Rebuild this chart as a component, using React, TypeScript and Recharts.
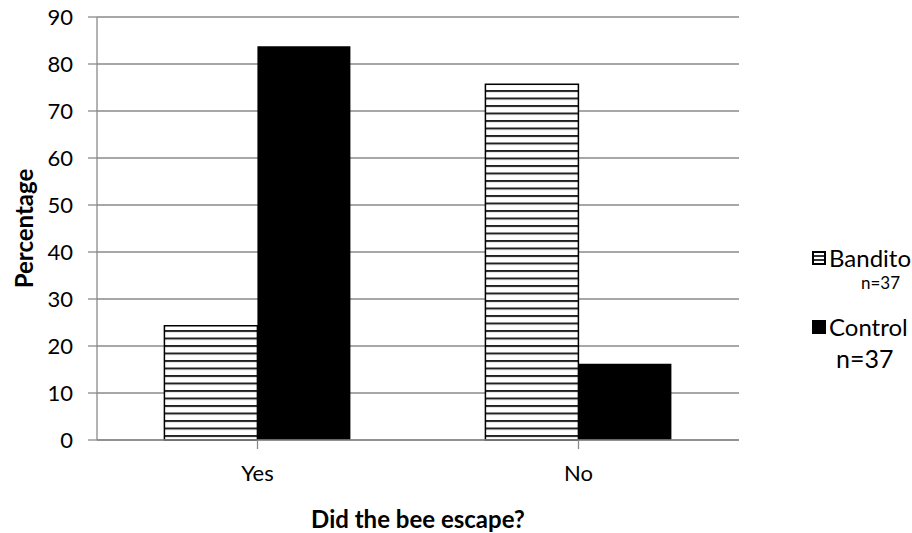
import React from 'react';
import { BarChart, Bar, XAxis, YAxis, CartesianGrid } from 'recharts';

const categories = ['Yes', 'No'];
const banditoValues = [24.3, 75.7];
const controlValues = [83.8, 16.2];
const yTicks = [0, 10, 20, 30, 40, 50, 60, 70, 80, 90];
const seriesNames = ['Bandito', 'Control'];
const sampleSizes = ['n=37', 'n=37'];

const data = categories.map((c, i) => ({ answer: c, bandito: banditoValues[i], control: controlValues[i] }));

const FONT = 'Lato, "Open Sans", sans-serif';

// legend drawn as an overlay so it doesn't eat into the plot area
const LegendBox = () => (
  <div style={{ position: 'absolute', left: 812, top: 242, fontFamily: FONT, color: '#000', width: 100, whiteSpace: 'nowrap' }}>
    <div style={{ display: 'flex', alignItems: 'center', fontSize: 24, lineHeight: '32px', height: 32 }}>
      <svg width={14} height={14} style={{ marginRight: 3, flexShrink: 0 }}>
        <rect x={1} y={1} width={12} height={12} fill="#fff" stroke="#000" strokeWidth={2} />
        <line x1={1} y1={5} x2={13} y2={5} stroke="#000" strokeWidth={1.6} />
        <line x1={1} y1={9} x2={13} y2={9} stroke="#000" strokeWidth={1.6} />
      </svg>
      {seriesNames[0]}
    </div>
    <div style={{ fontSize: 17, paddingLeft: 49, lineHeight: '18px' }}>{sampleSizes[0]}</div>
    <div style={{ display: 'flex', alignItems: 'center', fontSize: 24, lineHeight: '32px', height: 32, marginTop: 19 }}>
      <svg width={14} height={14} style={{ marginRight: 3, flexShrink: 0 }}>
        <rect x={0} y={0} width={14} height={14} fill="#000" />
      </svg>
      {seriesNames[1]}
    </div>
    <div style={{ fontSize: 25, paddingLeft: 24, lineHeight: '30px', marginTop: 0 }}>{sampleSizes[1]}</div>
  </div>
);

export default function App() {
  return (
    <div style={{ position: 'absolute', left: 0, top: 0, width: 912, height: 533, background: '#fff' }}>
      <BarChart
        width={912}
        height={533}
        data={data}
        margin={{ top: 17, right: 173, bottom: 63, left: 57 }}
        barCategoryGap="21%"
        barGap={0}
      >
        <defs>
          <pattern id="stripes" patternUnits="userSpaceOnUse" width={8} height={7.5}>
            <rect x={0} y={0} width={8} height={7.5} fill="#fff" />
            <rect x={0} y={0} width={8} height={2} fill="#222" />
          </pattern>
        </defs>
        <CartesianGrid vertical={false} stroke="#8a8a8a" strokeWidth={1.3} />
        <XAxis
          dataKey="answer"
          stroke="#8a8a8a"
          strokeWidth={1.3}
          tickSize={9}
          tickMargin={16}
          height={30}
          tick={{ fontSize: 22, fill: '#000', fontFamily: FONT }}
          label={{ value: 'Did the bee escape?', position: 'insideBottom', offset: -58, fontSize: 24, fontWeight: 700, fill: '#000', fontFamily: FONT }}
        />
        <YAxis
          domain={[0, 90]}
          ticks={yTicks}
          stroke="#8a8a8a"
          strokeWidth={1.3}
          tickSize={9}
          tickMargin={15}
          width={40}
          tick={{ fontSize: 22, fill: '#000', fontFamily: FONT }}
          label={{ value: 'Percentage', angle: -90, position: 'insideLeft', offset: -33, style: { textAnchor: 'middle' }, fontSize: 24, fontWeight: 700, fill: '#000', fontFamily: FONT }}
        />
        <Bar dataKey="bandito" fill="url(#stripes)" stroke="#000" strokeWidth={1.5} isAnimationActive={false} />
        <Bar dataKey="control" fill="#000" isAnimationActive={false} />
      </BarChart>
      <LegendBox />
    </div>
  );
}
